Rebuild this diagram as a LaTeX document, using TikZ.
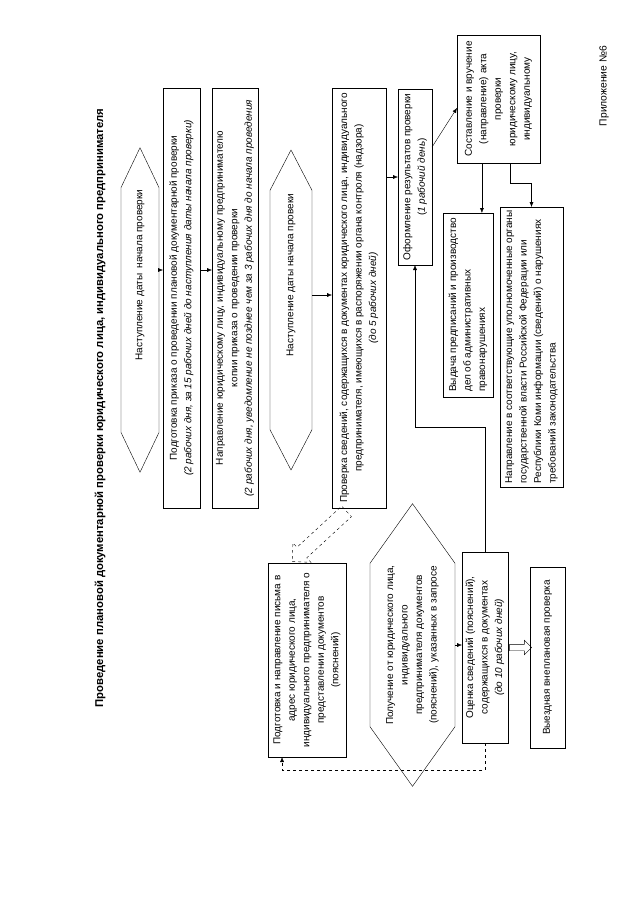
\documentclass[tikz,border=0pt]{standalone}
\usepackage{fontspec}
\setmainfont{Liberation Sans}
\usetikzlibrary{arrows.meta,shapes.arrows,shapes.symbols,calc}

\tikzset{
  box/.style={draw, rotate=90, align=center, inner sep=2pt, outer sep=0pt,
    font=\fontsize{10}{14.5}\selectfont},
  lbox/.style={box, align=left},
  hexa/.style={box, signal, signal to=east and west},
  arr/.style={-{Latex[length=5pt,width=4pt]}},
  fatarr/.style={draw, single arrow, inner sep=3pt, minimum height=22pt,
    single arrow head extend=4pt, outer sep=0pt}
}

\begin{document}
\begin{tikzpicture}[x=1pt,y=-1pt]
\useasboundingbox (0,0) rectangle (640,905);

\node[rotate=90, font=\bfseries\fontsize{11.3}{13}\selectfont] (title) at (100,408)
  {Проведение плановой документарной проверки юридического лица, индивидуального предпринимателя};
\node[rotate=90, font=\fontsize{10.3}{12}\selectfont] (app) at (604,86) {Приложение №6};

% first column
\node[hexa, minimum width=320pt, minimum height=38pt, signal pointer angle=51] (start1) at (140,310)
  {\hspace{70pt}Наступление даты\ \ начала проверки};
\node[box, minimum width=420pt, minimum height=37pt] (order) at (181.5,298)
  {Подготовка приказа о проведении плановой документарной проверки\\
   \textit{(2 рабочих дня, за 15 рабочих дней до наступления даты начала проверки)}};
\node[box, minimum width=420pt, minimum height=46pt] (notice) at (235,298)
  {Направление юридическому лицу, индивидуальному предпринимателю\\
   копии приказа о проведении проверки\\
   \textit{(2 рабочих дня, уведомление не позднее чем за 3 рабочих дня до начала проведения}};
\node[hexa, minimum width=320pt, minimum height=42pt, signal pointer angle=55] (start2) at (291,310)
  {\hspace{70pt}Наступление даты начала провеки};
\node[box, minimum width=420pt, minimum height=54pt] (check) at (359,298)
  {Проверка сведений, содержащихся в документах юридического лица, индивидуального\\
   предпринимателя, имеющихся в распоряжении органа контроля (надзора)\\
   \textit{(до 5 рабочих дней)}};
\node[box, minimum width=176pt, minimum height=34pt] (result) at (415,177)
  {Оформление результатов проверки\\(\textit{1 рабочий день})};
\node[box, minimum width=128pt, minimum height=83pt] (act) at (498.5,99)
  {Составление и вручение\\(направление) акта\\проверки\\юридическому лицу,\\индивидуальному};
\node[lbox, minimum width=184pt, minimum height=50pt] (order2) at (468,305)
  {Выдача предписаний и производство\\дел об административных\\правонарушениях};
\node[lbox, minimum width=280pt, minimum height=63pt] (organs) at (531.5,347)
  {Направление в соответствующие уполномоченные органы\\
   государственной власти Российской Федерации или\\
   Республики Коми информации (сведений) о нарушениях\\
   требований законодательства};

% lower part
\node[box, minimum width=194pt, minimum height=78pt] (letter) at (307,660)
  {Подготовка и направление письма в\\адрес юридического лица,\\
   индивидуального предпринимателя о\\представлении документов\\(пояснений)};
\node[hexa, minimum width=260pt, minimum height=85pt, signal pointer angle=71] (receive) at (412.5,645)
  {Получение от юридического лица,\\индивидуального\\предпринимателя документов\\
   (пояснений), указанных в запросе};
\node[box, minimum width=191pt, minimum height=46pt] (assess) at (485,647.5)
  {Оценка сведений (пояснений),\\содержащихся в документах\\\textit{(до 10 рабочих дней)}};
\node[box, minimum width=181pt, minimum height=35pt] (onsite) at (547.5,657.5)
  {Выездная внеплановая проверка};

\coordinate (s1) at ($(start1.south)+(0,-40)$);
\coordinate (o1) at ($(order.south)+(0,-28)$);
\coordinate (s2) at ($(start2.south)+(0,-15)$);
\draw[arr] (s1) -- (s1 -| order.north);
\draw[arr] (o1) -- (o1 -| notice.north);
\draw[arr] (s2) -- (s2 -| check.north);
\draw[arr] (result.north -| check.south) -- (result.north);
\draw[arr] ($(result.south east)!0.33!(result.south west)$) -- ($(act.north east)!0.57!(act.north west)$);
\coordinate (act1) at ($(act.north west)!0.3!(act.south west)$);
\draw[arr] (act1) -- (act1 |- order2.east);
\draw[arr] ($(act.north west)!0.64!(act.south west)$) -- ++(0,20) -| (organs.east);
\draw[arr] (receive.south) -- (receive.south -| assess.north);
\draw[arr] (assess.east) -- ++(0,-125) -| (result.west);
\draw[arr, dashed] (assess.west) -- ++(0,27) -| ($(letter.north west)!0.18!(letter.south west)$);

\node[fatarr] (go) at ($(assess.south)!0.5!(assess.south -| onsite.north)$) {};
\node[fatarr, dashed, rotate=222.7, minimum height=74pt, inner sep=7pt,
  single arrow head extend=6pt] (ask) at (322,534) {};

\end{tikzpicture}
\end{document}
